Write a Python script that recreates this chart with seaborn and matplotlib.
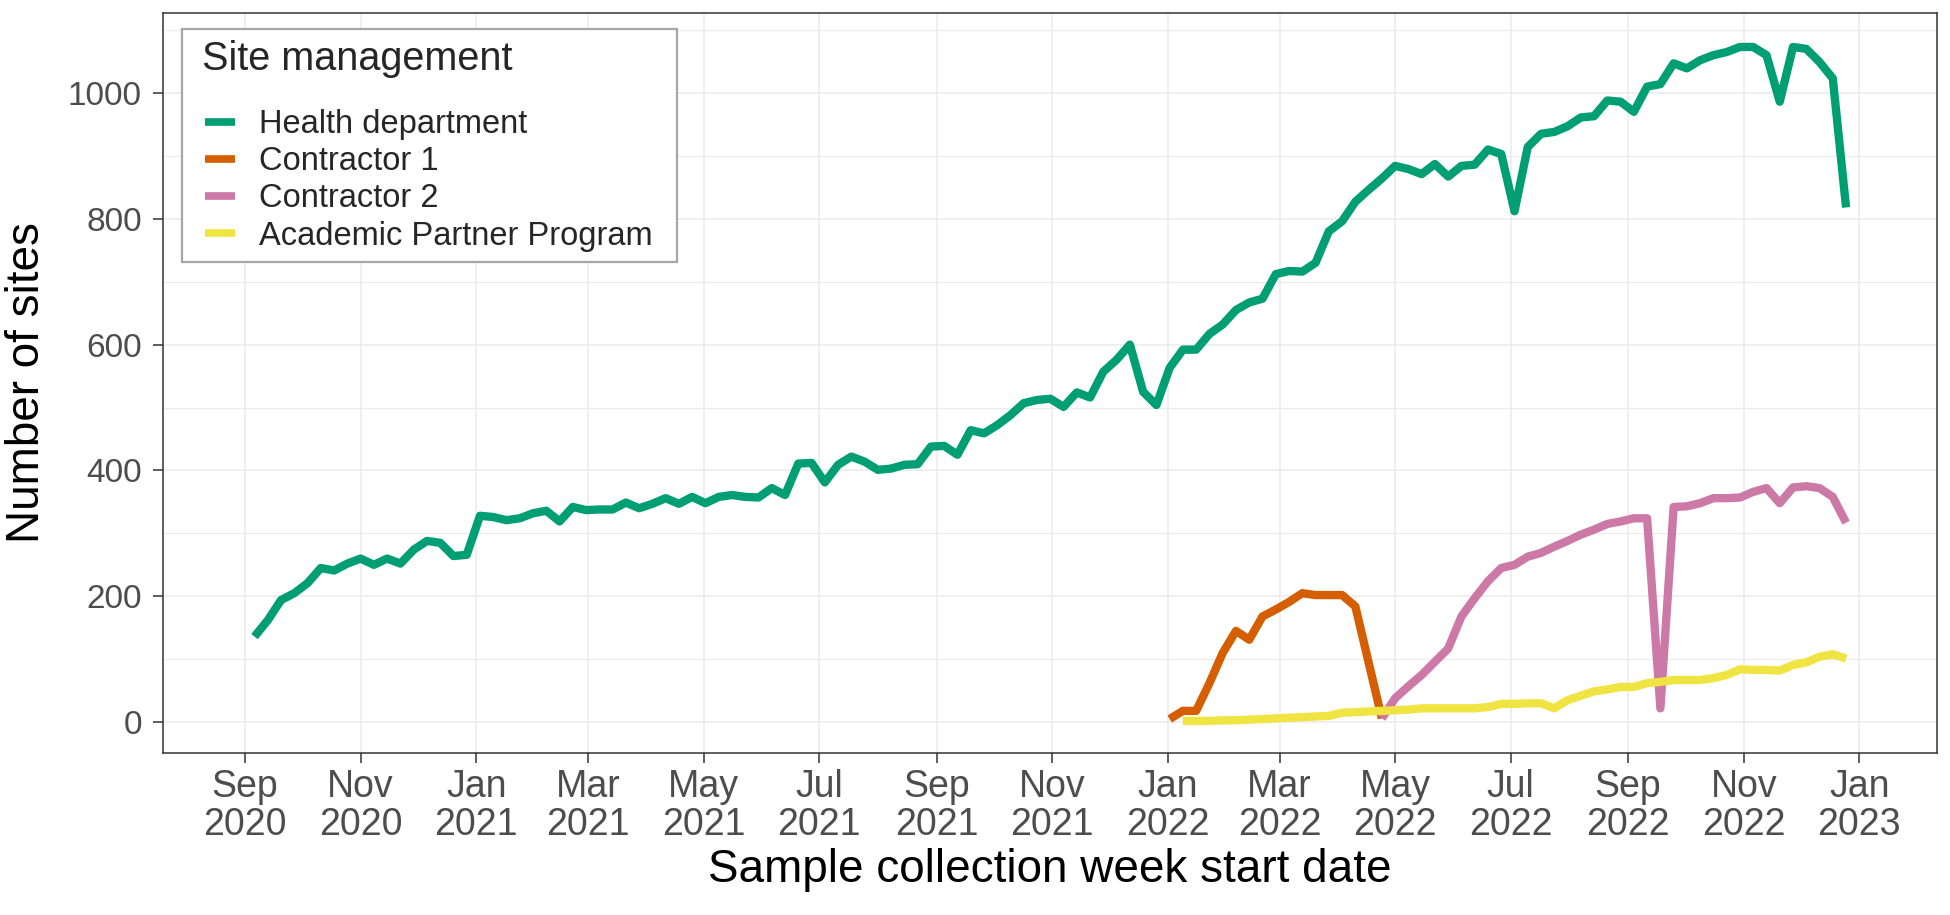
import pandas as pd
import numpy as np
import matplotlib.pyplot as plt
from matplotlib.patches import Rectangle
from matplotlib.ticker import MultipleLocator
import seaborn as sns

# semanas de coleta (inicio da semana, domingo)
semanas = pd.date_range("2020-09-06", "2022-12-25", freq="7D")

# numero de sites por semana
health_dept = [136, 162, 194, 205, 221, 245, 241, 252, 260, 250,
               260, 252, 274, 288, 285, 264, 266, 328, 326, 321,
               324, 332, 336, 319, 342, 337, 338, 338, 349, 340,
               347, 356, 347, 358, 348, 358, 361, 358, 357, 372,
               361, 411, 412, 381, 409, 422, 414, 401, 403, 409,
               410, 438, 439, 425, 464, 459, 472, 488, 507, 512,
               514, 501, 524, 516, 557, 576, 600, 525, 504, 563,
               592, 592, 617, 632, 655, 667, 673, 712, 717, 716,
               730, 780, 796, 827, 846, 864, 884, 879, 871, 887,
               867, 884, 886, 910, 903, 812, 914, 935, 938, 947,
               961, 963, 988, 986, 970, 1010, 1014, 1047, 1039, 1052,
               1060, 1065, 1073, 1073, 1060, 986, 1073, 1070, 1049, 1023,
               818]
# contractor 1: a partir de 2022-01-02
contractor_1 = [5, 18, 18, 62, 110, 145, 131, 168, 179, 191,
                205, 202, 202, 202, 184, 95, 6]
# contractor 2: a partir de 2022-04-24
contractor_2 = [6, 38, 57, 75, 96, 117, 168, 197, 224, 245,
                250, 263, 269, 279, 288, 298, 306, 315, 319, 324,
                324, 22, 342, 343, 348, 356, 356, 357, 366, 372,
                348, 373, 375, 372, 358, 317]
# academic partner program: a partir de 2022-01-09
academic = [2, 2, 2, 3, 3, 4, 5, 6, 7, 8,
            9, 10, 15, 16, 17, 18, 19, 20, 22, 22,
            22, 22, 22, 24, 29, 29, 30, 30, 22, 35,
            42, 49, 52, 56, 56, 62, 64, 67, 67, 67,
            70, 75, 84, 83, 83, 82, 91, 95, 104, 108,
            101]

grupos = ["Health department", "Contractor 1", "Contractor 2",
          "Academic Partner Program"]
inicios = ["2020-09-06", "2022-01-02", "2022-04-24", "2022-01-09"]
cores = ["#009E73", "#D55E00", "#CC79A7", "#F0E442"]

meses = pd.date_range("2020-09-01", "2023-01-01", freq="2MS")
rotulos_x = [m.strftime("%b\n%Y") for m in meses]

# montando o dataframe longo
partes = []
for nome, ini, valores in zip(grupos, inicios,
                              [health_dept, contractor_1, contractor_2, academic]):
    datas = semanas[semanas >= pd.Timestamp(ini)][:len(valores)]
    partes.append(pd.DataFrame({"semana": datas, "sites": valores, "grupo": nome}))
df = pd.concat(partes, ignore_index=True)

sns.set_style("white")
plt.rcParams["font.family"] = ["Liberation Sans", "DejaVu Sans"]
plt.rcParams["lines.solid_capstyle"] = "butt"
plt.rcParams["lines.solid_joinstyle"] = "round"

fig = plt.figure(figsize=(19.5, 9.15), dpi=100)
ax = fig.add_axes([163 / 1950, 1 - 753 / 915, 1774 / 1950, 740 / 915])

sns.lineplot(data=df, x="semana", y="sites", hue="grupo", hue_order=grupos,
             palette=cores, linewidth=6, estimator=None, ax=ax)

# eixos
inicio = pd.Timestamp("2020-09-01")
ax.set_xlim(inicio - pd.Timedelta(days=43.3), inicio + pd.Timedelta(days=893))
ax.set_ylim(-49, 1127)
ax.set_xticks(meses)
ax.set_xticklabels(rotulos_x)
for lab in ax.get_xticklabels():
    lab.set_linespacing(1.05)
ax.set_yticks([0, 200, 400, 600, 800, 1000])
ax.yaxis.set_minor_locator(MultipleLocator(100))

ax.tick_params(axis="x", which="major", labelsize=27, length=7.2, width=1.1,
               color="#333333", labelcolor="#4D4D4D", pad=4.5)
ax.tick_params(axis="y", which="major", labelsize=24, length=7.2, width=1.1,
               color="#333333", labelcolor="#4D4D4D", pad=8)
ax.tick_params(which="minor", length=0)
ax.tick_params(bottom=True, left=True)

ax.set_axisbelow(True)
ax.grid(which="major", color="#EBEBEB", linewidth=1.1)
ax.grid(which="minor", axis="y", color="#EBEBEB", linewidth=0.9)
for s in ax.spines.values():
    s.set_color("#333333")
    s.set_linewidth(1.1)

ax.set_xlabel("Sample collection week start date", fontsize=33, color="black")
ax.set_ylabel("Number of sites", fontsize=33, color="black")
ax.xaxis.set_label_coords(0.5, -0.128)
ax.yaxis.set_label_coords(-0.064, 0.5)

# legenda
handles, labels = ax.get_legend_handles_labels()
if ax.get_legend() is not None:
    ax.get_legend().remove()
ax.add_patch(Rectangle((19 / 1774, 491 / 740), 495 / 1774, 233 / 740,
                       transform=ax.transAxes, facecolor="white",
                       edgecolor="#A6A6A6", linewidth=1.6, zorder=4))
ax.text(39 / 1774, 683 / 740, "Site management", transform=ax.transAxes,
        fontsize=28.5, va="baseline", ha="left", zorder=6)
leg = ax.legend(handles, labels, loc="upper left",
                bbox_to_anchor=(42 / 1774, 644 / 740), frameon=False,
                fontsize=23.5, handlelength=0.91, handletextpad=0.75,
                labelspacing=0.19, borderpad=0, borderaxespad=0)
for h in leg.get_lines():
    h.set_linewidth(5.5)
leg.set_zorder(6)

fig.savefig("out.png", dpi=100)
